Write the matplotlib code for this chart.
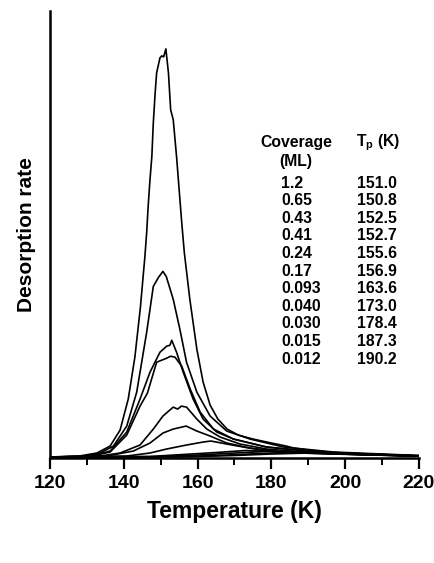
import matplotlib
matplotlib.use("Agg")
import matplotlib.pyplot as plt
from matplotlib.ticker import MultipleLocator

plt.rcParams["font.family"] = ["Liberation Sans", "DejaVu Sans"]
plt.rcParams["mathtext.fontset"] = "custom"
plt.rcParams["mathtext.rm"] = "Liberation Sans"
plt.rcParams["mathtext.bf"] = "Liberation Sans:bold"

# TPD traces (temperature in K, rate in arbitrary units)
t_12 = [120, 128.0, 132.7, 136.3, 139.0, 141.2, 143.0, 144.5, 145.7, 146.2,
        146.6, 147.1, 147.6, 148.0, 148.5, 148.9, 149.8, 150.3, 150.8, 151.4, 152.1,
        152.7, 153.4, 154.3, 155.0, 155.7, 156.4, 157.9, 159.8, 161.5, 163.4, 165.5,
        168.0, 171.0, 175.0, 180.0, 184.0, 186.0, 190.0, 195.0, 205.0, 220]
r_12 = [0, 1, 4, 11, 27, 58, 100, 150, 200, 225,
        251, 278, 301, 335, 365, 385, 400, 402, 401, 409, 385,
        348, 338, 301, 268, 235, 205, 158, 108, 75, 52, 38,
        28, 22, 18, 14, 11, 9, 7, 5, 3, 1.5]

t_065 = [120, 129.0, 133.6, 137.2, 140.8, 143.5, 146.2, 148.0, 149.4, 150.6, 151.5, 153.4,
         155.2, 157.0, 159.8, 163.4, 167.9, 174.2, 183.3, 196.8, 220]
r_065 = [0, 0.5, 4, 11, 31, 65, 125, 171, 180, 186, 181, 158,
         128, 95, 65, 41, 26, 18, 10, 5, 1.5]

t_043 = [120, 130.8, 136.3, 140.8, 144.4, 147.1, 149.8, 151.6, 152.5, 153.0, 154.3, 156.1,
         158.8, 161.5, 165.2, 169.7, 178.7, 192.3, 220]
r_043 = [0, 0.5, 6, 25, 58, 85, 105, 111, 112, 117, 105, 85,
         58, 38, 25, 18, 10, 5, 1]

t_041 = [120, 130.8, 136.3, 140.8, 144.4, 146.4, 148.9, 151.6, 152.7, 153.9, 155.7, 158.0,
         160.7, 164.3, 169.7, 178.7, 192.3, 220]
r_041 = [0, 0.5, 5, 22, 51, 64, 95, 99, 101, 100, 91, 68,
         45, 28, 18, 10, 5, 1]

t_024 = [120, 133.6, 139.0, 144.4, 148.0, 150.6, 153.4, 154.6, 155.6, 157.0, 159.8, 162.5,
         166.1, 171.5, 178.7, 192.3, 220]
r_024 = [0, 1, 4, 12, 28, 41, 50, 48, 51, 50, 38, 28,
         20, 13, 8, 4, 1]

t_017 = [120, 135.4, 142.6, 147.1, 150.6, 153.4, 156.9, 159.8, 163.4, 167.9, 174.2, 183.3, 220]
r_017 = [0, 1, 6, 14, 24, 28, 31, 26, 21, 14, 9, 5, 1]

t_0093 = [120, 140.8, 147.1, 151.6, 157.0, 161.5, 163.6, 167.9, 172.4, 178.7, 187.7, 220]
r_0093 = [0, 1, 4, 8, 12, 15, 16, 13, 10, 6, 4, 1]

t_0040 = [120, 147.0, 156.0, 165.0, 173.0, 180.0, 188.0, 201.6, 220]
r_0040 = [0, 0.5, 2.5, 4.5, 6.5, 5.5, 4, 2.5, 1]

t_0030 = [120, 150.0, 160.0, 170.0, 178.4, 186.0, 195.0, 207.0, 220]
r_0030 = [0, 0.3, 2, 4, 5.5, 5, 3.5, 2, 1]

t_0015 = [120, 155.0, 165.0, 177.0, 187.3, 195.0, 205.0, 220]
r_0015 = [0, 0.3, 1.5, 3.5, 4.5, 4, 2.5, 1]

t_0012 = [120, 158.0, 170.0, 180.0, 190.2, 198.0, 208.0, 220]
r_0012 = [0, 0.3, 1.5, 3, 4, 3.5, 2, 1]

traces = [(t_12, r_12), (t_065, r_065), (t_043, r_043), (t_041, r_041),
          (t_024, r_024), (t_017, r_017), (t_0093, r_0093), (t_0040, r_0040),
          (t_0030, r_0030), (t_0015, r_0015), (t_0012, r_0012)]

coverage = ["1.2", "0.65", "0.43", "0.41", "0.24", "0.17", "0.093", "0.040",
            "0.030", "0.015", "0.012"]
peak_temp = ["151.0", "150.8", "152.5", "152.7", "155.6", "156.9", "163.6",
             "173.0", "178.4", "187.3", "190.2"]

fig = plt.figure(figsize=(4.34, 5.63), dpi=100)
ax = fig.add_axes([0.1152, 0.1865, 0.8502, 0.794])

for t, r in traces:
    ax.plot(t, r, color="black", lw=1.2)

ax.set_xlim(120, 220)
ax.set_ylim(-1, 447)
ax.set_yticks([])
ax.xaxis.set_major_locator(MultipleLocator(20))
ax.xaxis.set_minor_locator(MultipleLocator(10))
ax.tick_params(axis="x", which="major", direction="out", length=8, width=1.6,
               labelsize=14, pad=4)
ax.tick_params(axis="x", which="minor", direction="out", length=5, width=1.4)
for lab in ax.get_xticklabels():
    lab.set_fontweight("bold")
ax.spines["top"].set_visible(False)
ax.spines["right"].set_visible(False)
ax.spines["left"].set_linewidth(1.8)
ax.spines["bottom"].set_linewidth(1.8)

ax.set_xlabel("Temperature (K)", fontsize=16.5, fontweight="bold", labelpad=6)
ax.set_ylabel("Desorption rate", fontsize=15, fontweight="bold", labelpad=10)

# coverage / peak temperature table
kw = dict(transform=ax.transAxes, fontsize=11.3, fontweight="bold", va="center")
ax.text(0.571, 0.705, "Coverage", **kw)
ax.text(0.622, 0.664, "(ML)", **kw)
ax.text(0.829, 0.705, r"T$_\mathbf{p}$ (K)", **kw)
for i, (c, tp) in enumerate(zip(coverage, peak_temp)):
    y = 0.615 - i * 0.0394
    ax.text(0.626, y, c, **kw)
    ax.text(0.832, y, tp, **kw)

fig.savefig("out.png", dpi=100)
